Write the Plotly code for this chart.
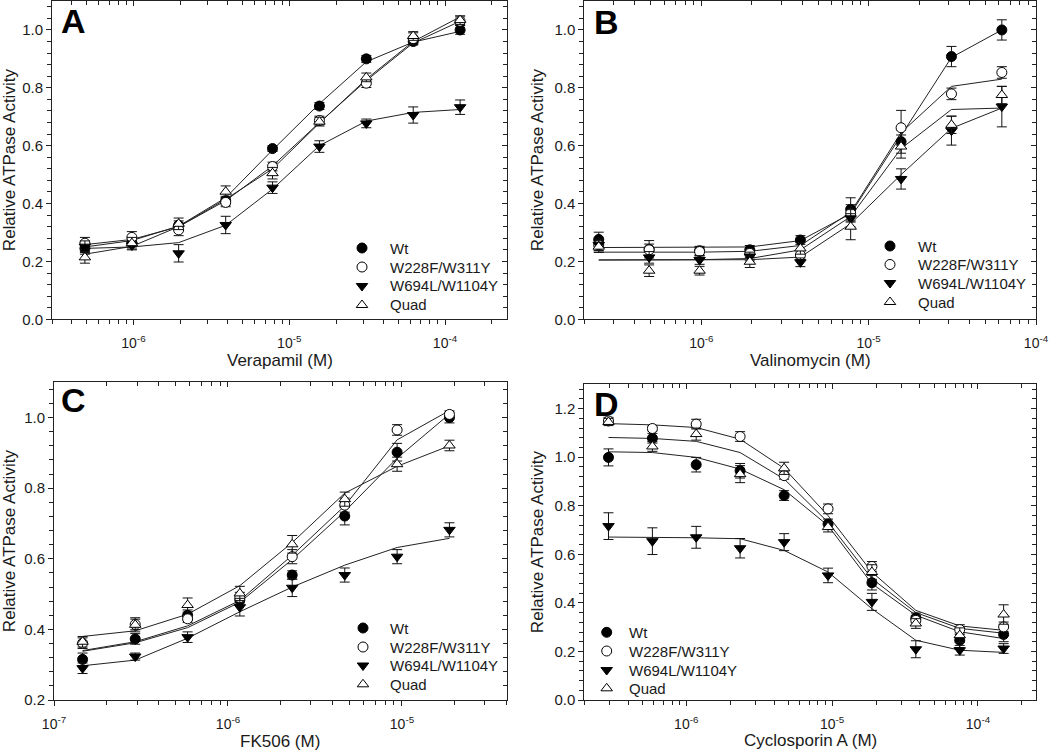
import math
import plotly.graph_objects as go

W, H = 1050, 751

SERIES_NAMES = ["Wt", "W228F/W311Y", "W694L/W1104Y", "Quad"]

# ---------------- Panel A : Verapamil ----------------
A_X = [4.88e-7, 9.77e-7, 1.95e-6, 3.91e-6, 7.81e-6, 1.5625e-5, 3.125e-5, 6.25e-5, 1.25e-4]
A_WT = [0.245, 0.265, 0.325, 0.41, 0.59, 0.737, 0.90, 0.96, 1.0]
A_WT_ERR = [0.02, 0.015, 0.015, 0.015, 0.01, 0.012, 0.012, 0.012, 0.015]
A_WT_FIT = [0.25, 0.272, 0.322, 0.42, 0.585, 0.745, 0.89, 0.958, 0.995]
A_W228 = [0.263, 0.283, 0.309, 0.404, 0.528, 0.687, 0.816, 0.97, 1.03]
A_W228_ERR = [0.02, 0.02, 0.02, 0.015, 0.015, 0.015, 0.015, 0.02, 0.015]
A_W228_FIT = [0.258, 0.276, 0.32, 0.41, 0.53, 0.68, 0.825, 0.955, 1.03]
A_W694 = [0.251, 0.255, 0.228, 0.326, 0.455, 0.597, 0.677, 0.706, 0.733]
A_W694_ERR = [0.02, 0.015, 0.03, 0.03, 0.02, 0.02, 0.015, 0.028, 0.025]
A_W694_FIT = [0.245, 0.25, 0.265, 0.325, 0.45, 0.60, 0.685, 0.715, 0.725]
A_QUAD = [0.214, 0.263, 0.33, 0.441, 0.505, 0.683, 0.836, 0.979, 1.034]
A_QUAD_ERR = [0.02, 0.02, 0.02, 0.02, 0.02, 0.015, 0.015, 0.015, 0.015]
A_QUAD_FIT = [0.225, 0.252, 0.32, 0.415, 0.52, 0.678, 0.83, 0.96, 1.045]

# ---------------- Panel B : Valinomycin ----------------
B_X = [2.44e-7, 4.88e-7, 9.77e-7, 1.95e-6, 3.91e-6, 7.81e-6, 1.5625e-5, 3.125e-5, 6.25e-5]
B_WT = [0.276, 0.242, 0.237, 0.24, 0.274, 0.38, 0.614, 0.908, 1.0]
B_WT_ERR = [0.025, 0.03, 0.015, 0.015, 0.015, 0.04, 0.04, 0.035, 0.035]
B_WT_FIT = [0.248, 0.248, 0.248, 0.25, 0.272, 0.365, 0.635, 0.905, 1.0]
B_W228 = [0.257, 0.24, 0.234, 0.228, 0.222, 0.366, 0.662, 0.779, 0.853]
B_W228_ERR = [0.02, 0.02, 0.015, 0.015, 0.015, 0.03, 0.06, 0.02, 0.02]
B_W228_FIT = [0.232, 0.232, 0.232, 0.235, 0.255, 0.37, 0.645, 0.805, 0.83]
B_W694 = [0.257, 0.214, 0.205, 0.217, 0.197, 0.349, 0.485, 0.652, 0.735]
B_W694_ERR = [0.02, 0.02, 0.015, 0.015, 0.015, 0.03, 0.035, 0.05, 0.07]
B_W694_FIT = [0.205, 0.205, 0.205, 0.206, 0.215, 0.33, 0.50, 0.66, 0.73]
B_QUAD = [0.251, 0.168, 0.168, 0.199, 0.245, 0.32, 0.597, 0.672, 0.775]
B_QUAD_ERR = [0.02, 0.02, 0.015, 0.02, 0.02, 0.045, 0.04, 0.03, 0.03]
B_QUAD_FIT = [0.205, 0.205, 0.206, 0.21, 0.24, 0.355, 0.59, 0.725, 0.73]

# ---------------- Panel C : FK506 ----------------
C_X = [1.46e-7, 2.93e-7, 5.86e-7, 1.17e-6, 2.34e-6, 4.69e-6, 9.38e-6, 1.875e-5]
C_WT = [0.315, 0.373, 0.44, 0.483, 0.554, 0.721, 0.902, 1.0]
C_WT_ERR = [0.018, 0.015, 0.015, 0.015, 0.012, 0.025, 0.025, 0.015]
C_WT_FIT = [0.338, 0.362, 0.405, 0.477, 0.598, 0.734, 0.885, 1.01]
C_W228 = [0.361, 0.414, 0.43, 0.49, 0.606, 0.752, 0.965, 1.009]
C_W228_ERR = [0.015, 0.015, 0.01, 0.015, 0.02, 0.02, 0.015, 0.01]
C_W228_FIT = [0.34, 0.365, 0.41, 0.482, 0.61, 0.75, 0.937, 1.02]
C_W694 = [0.29, 0.323, 0.378, 0.463, 0.518, 0.554, 0.606, 0.682]
C_W694_ERR = [0.015, 0.01, 0.015, 0.025, 0.025, 0.02, 0.02, 0.02]
C_W694_FIT = [0.297, 0.313, 0.375, 0.45, 0.52, 0.582, 0.632, 0.658]
C_QUAD = [0.365, 0.413, 0.469, 0.502, 0.641, 0.769, 0.868, 0.921]
C_QUAD_ERR = [0.015, 0.02, 0.02, 0.02, 0.025, 0.02, 0.02, 0.015]
C_QUAD_FIT = [0.38, 0.396, 0.443, 0.524, 0.646, 0.786, 0.862, 0.92]

# ---------------- Panel D : Cyclosporin A ----------------
D_X = [2.93e-7, 5.86e-7, 1.17e-6, 2.34e-6, 4.69e-6, 9.38e-6, 1.875e-5, 3.75e-5, 7.5e-5, 1.5e-4]
D_WT = [0.999, 1.078, 0.969, 0.944, 0.842, 0.725, 0.483, 0.338, 0.246, 0.27]
D_WT_ERR = [0.035, 0.02, 0.03, 0.03, 0.02, 0.02, 0.03, 0.02, 0.03, 0.03]
D_WT_FIT = [1.022, 1.019, 0.999, 0.951, 0.866, 0.718, 0.479, 0.349, 0.281, 0.253]
D_W228 = [1.149, 1.118, 1.136, 1.085, 0.924, 0.787, 0.55, 0.328, 0.29, 0.301]
D_W228_ERR = [0.015, 0.01, 0.02, 0.02, 0.015, 0.02, 0.02, 0.02, 0.02, 0.02]
D_W228_FIT = [1.138, 1.133, 1.122, 1.074, 0.954, 0.759, 0.527, 0.369, 0.305, 0.287]
D_W694 = [0.716, 0.654, 0.67, 0.625, 0.65, 0.513, 0.404, 0.209, 0.205, 0.212]
D_W694_ERR = [0.055, 0.055, 0.045, 0.04, 0.035, 0.03, 0.035, 0.035, 0.02, 0.02]
D_W694_FIT = [0.671, 0.671, 0.668, 0.664, 0.616, 0.527, 0.376, 0.246, 0.205, 0.196]
D_QUAD = [1.145, 1.044, 1.095, 0.93, 0.954, 0.712, 0.527, 0.315, 0.267, 0.352]
D_QUAD_ERR = [0.015, 0.02, 0.025, 0.035, 0.025, 0.02, 0.03, 0.02, 0.03, 0.04]
D_QUAD_FIT = [1.081, 1.077, 1.065, 1.019, 0.91, 0.732, 0.5, 0.36, 0.295, 0.275]

# axis labels / tick labels
X_TITLES = ["Verapamil (M)", "Valinomycin (M)", "FK506 (M)", "Cyclosporin A (M)"]
Y_TITLE = "Relative ATPase Activity"
PANEL_LETTERS = ["A", "B", "C", "D"]
X_MAJOR = {
    "A": [1e-6, 1e-5, 1e-4],
    "B": [1e-6, 1e-5, 1e-4],
    "C": [1e-7, 1e-6, 1e-5],
    "D": [1e-6, 1e-5, 1e-4],
}
X_MAJOR_TEXT = {
    "A": ["10<sup>-6</sup>", "10<sup>-5</sup>", "10<sup>-4</sup>"],
    "B": ["10<sup>-6</sup>", "10<sup>-5</sup>", "10<sup>-4</sup>"],
    "C": ["10<sup>-7</sup>", "10<sup>-6</sup>", "10<sup>-5</sup>"],
    "D": ["10<sup>-6</sup>", "10<sup>-5</sup>", "10<sup>-4</sup>"],
}
Y_MAJOR = {
    "A": [0.0, 0.2, 0.4, 0.6, 0.8, 1.0],
    "B": [0.0, 0.2, 0.4, 0.6, 0.8, 1.0],
    "C": [0.2, 0.4, 0.6, 0.8, 1.0],
    "D": [0.0, 0.2, 0.4, 0.6, 0.8, 1.0, 1.2],
}
Y_MAJOR_TEXT = {
    "A": ["0.0", "0.2", "0.4", "0.6", "0.8", "1.0"],
    "B": ["0.0", "0.2", "0.4", "0.6", "0.8", "1.0"],
    "C": ["0.2", "0.4", "0.6", "0.8", "1.0"],
    "D": ["0.0", "0.2", "0.4", "0.6", "0.8", "1.0", "1.2"],
}

# ---------------- layout geometry (pixels) ----------------
PANELS = [
    dict(key="A", x=A_X,
         series=[(A_WT, A_WT_ERR, A_WT_FIT), (A_W228, A_W228_ERR, A_W228_FIT),
                 (A_W694, A_W694_ERR, A_W694_FIT), (A_QUAD, A_QUAD_ERR, A_QUAD_FIT)],
         xr=(3e-7, 2.5e-4), yr=(0.0, 1.1), xd=(52, 507), yd=(1, 319.3),
         ytitle_x=9, xtitle_y=360, letter=(59, 21),
         leg_sym=362, leg_txt=388, leg_rows=(248, 267, 286, 305)),
    dict(key="B", x=B_X,
         series=[(B_WT, B_WT_ERR, B_WT_FIT), (B_W228, B_W228_ERR, B_W228_FIT),
                 (B_W694, B_W694_ERR, B_W694_FIT), (B_QUAD, B_QUAD_ERR, B_QUAD_FIT)],
         xr=(2e-7, 1e-4), yr=(0.0, 1.1), xd=(584.3, 1036), yd=(1, 319.3),
         ytitle_x=537, xtitle_y=360, letter=(592, 22),
         leg_sym=890, leg_txt=916, leg_rows=(246, 264.5, 283, 302)),
    dict(key="C", x=C_X,
         series=[(C_WT, C_WT_ERR, C_WT_FIT), (C_W228, C_W228_ERR, C_W228_FIT),
                 (C_W694, C_W694_ERR, C_W694_FIT), (C_QUAD, C_QUAD_ERR, C_QUAD_FIT)],
         xr=(1e-7, 4e-5), yr=(0.2, 1.1), xd=(54, 506.7), yd=(382.3, 700),
         ytitle_x=9, xtitle_y=741, letter=(59, 400),
         leg_sym=363, leg_txt=388, leg_rows=(628, 647, 665.5, 684.3)),
    dict(key="D", x=D_X,
         series=[(D_WT, D_WT_ERR, D_WT_FIT), (D_W228, D_W228_ERR, D_W228_FIT),
                 (D_W694, D_W694_ERR, D_W694_FIT), (D_QUAD, D_QUAD_ERR, D_QUAD_FIT)],
         xr=(2e-7, 2.5e-4), yr=(0.0, 1.3), xd=(584.3, 1036), yd=(384.3, 700),
         ytitle_x=537, xtitle_y=740, letter=(592, 404),
         leg_sym=606.7, leg_txt=626.7, leg_rows=(632.3, 651, 670, 688.3)),
]

STYLES = [
    dict(symbol="circle", color="black", size=10),
    dict(symbol="circle", color="white", size=10),
    dict(symbol="triangle-down", color="black", size=10),
    dict(symbol="triangle-up", color="white", size=10),
]

FONT = "Liberation Sans, Arial, sans-serif"
INK = "#1a1a1a"


def pxx(v):
    return v / W


def pxy(v):
    return 1 - v / H


def x_ticks(key, lo, hi):
    majors = X_MAJOR[key]
    minors = []
    e0 = math.floor(math.log10(lo)) - 1
    e1 = math.ceil(math.log10(hi)) + 1
    for e in range(e0, e1):
        for m in range(2, 10):
            v = m * 10 ** e
            if lo * 0.999 <= v <= hi * 1.001:
                minors.append(v)
    return majors, X_MAJOR_TEXT[key], minors


def y_ticks(key, lo, hi):
    minors = []
    k = 0
    while k * 0.04 <= hi + 1e-9:
        v = round(k * 0.04, 4)
        if v >= lo - 1e-9 and k % 5 != 0:
            minors.append(v)
        k += 1
    return Y_MAJOR[key], Y_MAJOR_TEXT[key], minors


fig = go.Figure()
layout = dict(
    width=W, height=H, autosize=False,
    margin=dict(l=0, r=0, t=0, b=0, pad=0, autoexpand=False),
    paper_bgcolor="white", plot_bgcolor="rgba(0,0,0,0)",
    font=dict(family=FONT, color=INK, size=15),
    showlegend=False,
    annotations=[],
)

# pixel-coordinate helper axes for the in-plot legends
layout["xaxis9"] = dict(domain=[0, 1], range=[0, W], anchor="y9", visible=False,
                        fixedrange=True, automargin=False)
layout["yaxis9"] = dict(domain=[0, 1], range=[H, 0], anchor="x9", visible=False,
                        fixedrange=True, automargin=False)

for i, p in enumerate(PANELS, start=1):
    key = p["key"]
    xs = "x" if i == 1 else f"x{i}"
    ys = "y" if i == 1 else f"y{i}"
    xo, yo = f"x{i + 4}", f"y{i + 4}"

    # fitted curves
    for (vals, errs, fit) in p["series"]:
        fig.add_trace(go.Scatter(
            x=p["x"], y=fit, mode="lines", xaxis=xs, yaxis=ys,
            line=dict(color="#222222", width=1), showlegend=False, hoverinfo="skip"))
    # data points with error bars
    for name, (vals, errs, fit), st in zip(SERIES_NAMES, p["series"], STYLES):
        fig.add_trace(go.Scatter(
            x=p["x"], y=vals, mode="markers", name=name, xaxis=xs, yaxis=ys,
            showlegend=False,
            marker=dict(symbol=st["symbol"], size=st["size"], color=st["color"],
                        line=dict(color="black", width=1)),
            error_y=dict(type="data", array=errs, visible=True, color="#111111",
                         thickness=1, width=5)))
    # empty trace to create overlay axes (inward ticks on top/right)
    fig.add_trace(go.Scatter(x=[], y=[], xaxis=xo, yaxis=yo, showlegend=False,
                             hoverinfo="skip"))

    # legend symbols + labels
    fig.add_trace(go.Scatter(
        x=[p["leg_sym"]] * 4, y=list(p["leg_rows"]), mode="markers",
        xaxis="x9", yaxis="y9", showlegend=False, hoverinfo="skip",
        marker=dict(symbol=[s["symbol"] for s in STYLES],
                    color=[s["color"] for s in STYLES], size=10,
                    line=dict(color="black", width=1))))
    for name, ry in zip(SERIES_NAMES, p["leg_rows"]):
        layout["annotations"].append(dict(
            text=name, x=pxx(p["leg_txt"]), y=pxy(ry), xref="paper", yref="paper",
            xanchor="left", yanchor="middle", showarrow=False,
            font=dict(size=15, family=FONT, color=INK)))

    xv, xt, xm = x_ticks(key, *p["xr"])
    yv, yt, ym = y_ticks(key, *p["yr"])
    xrange = [math.log10(p["xr"][0]), math.log10(p["xr"][1])]
    xdom = [pxx(p["xd"][0]), pxx(p["xd"][1])]
    ydom = [pxy(p["yd"][1]), pxy(p["yd"][0])]

    layout["xaxis" if i == 1 else f"xaxis{i}"] = dict(
        type="log", range=xrange, domain=xdom, anchor=ys,
        showline=True, linecolor="#222", linewidth=1, mirror=True,
        ticks="outside", ticklen=5, tickwidth=1, tickcolor="#222",
        tickmode="array", tickvals=xv, ticktext=xt, ticklabelstandoff=6,
        minor=dict(tickmode="array", tickvals=xm, ticks="outside", ticklen=4,
                   tickwidth=1, tickcolor="#222", showgrid=False),
        tickfont=dict(size=14, family=FONT, color=INK), automargin=False,
        showgrid=False, zeroline=False, fixedrange=True)
    layout["yaxis" if i == 1 else f"yaxis{i}"] = dict(
        range=list(p["yr"]), domain=ydom, anchor=xs,
        showline=True, linecolor="#222", linewidth=1, mirror=True,
        ticks="outside", ticklen=5, tickwidth=1, tickcolor="#222",
        tickmode="array", tickvals=yv, ticktext=yt,
        minor=dict(tickmode="array", tickvals=ym, ticks="outside", ticklen=4,
                   tickwidth=1, tickcolor="#222", showgrid=False),
        tickfont=dict(size=15, family=FONT, color=INK), automargin=False,
        showgrid=False, zeroline=False, fixedrange=True)
    layout[f"xaxis{i + 4}"] = dict(
        type="log", range=xrange, overlaying=xs, side="top", anchor=yo,
        showline=False, ticks="inside", ticklen=5, tickwidth=1, tickcolor="#222",
        tickmode="array", tickvals=xv, showticklabels=False, automargin=False,
        minor=dict(tickmode="array", tickvals=xm, ticks="inside", ticklen=4,
                   tickwidth=1, tickcolor="#222", showgrid=False),
        showgrid=False, zeroline=False, fixedrange=True)
    layout[f"yaxis{i + 4}"] = dict(
        range=list(p["yr"]), overlaying=ys, side="right", anchor=xo,
        showline=False, ticks="inside", ticklen=5, tickwidth=1, tickcolor="#222",
        tickmode="array", tickvals=yv, showticklabels=False, automargin=False,
        minor=dict(tickmode="array", tickvals=ym, ticks="inside", ticklen=4,
                   tickwidth=1, tickcolor="#222", showgrid=False),
        showgrid=False, zeroline=False, fixedrange=True)

    cx = (p["xd"][0] + p["xd"][1]) / 2
    cy = (p["yd"][0] + p["yd"][1]) / 2
    layout["annotations"] += [
        dict(text=X_TITLES[i - 1], x=pxx(cx), y=pxy(p["xtitle_y"]), xref="paper",
             yref="paper", xanchor="center", yanchor="middle", showarrow=False,
             font=dict(size=17, family=FONT, color=INK)),
        dict(text=Y_TITLE, x=pxx(p["ytitle_x"]), y=pxy(cy), xref="paper",
             yref="paper", xanchor="center", yanchor="middle", textangle=-90,
             showarrow=False, font=dict(size=17, family=FONT, color=INK)),
        dict(text="<b>" + PANEL_LETTERS[i - 1] + "</b>", x=pxx(p["letter"][0]),
             y=pxy(p["letter"][1]), xref="paper", yref="paper", xanchor="left",
             yanchor="middle", showarrow=False,
             font=dict(size=34, family=FONT, color="black")),
    ]

fig.update_layout(**layout)
fig.write_html(
    "out.html",
    config={"displayModeBar": False},
    post_script="document.body.style.margin='0px';document.body.style.overflow='hidden';",
)
